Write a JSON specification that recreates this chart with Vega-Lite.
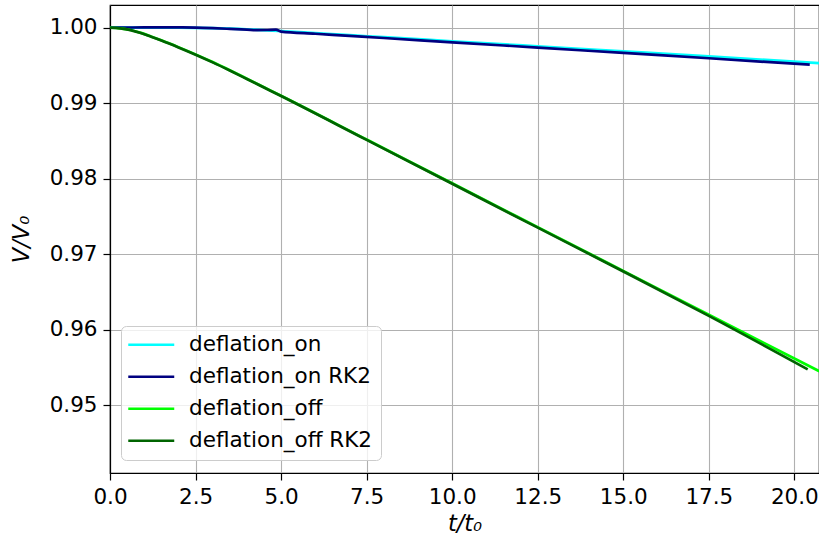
{
  "$schema": "https://vega.github.io/schema/vega-lite/v6.json",
  "width": 709,
  "height": 468,
  "autosize": {"type": "none"},
  "padding": {"left": 110, "top": 5, "right": 0, "bottom": 66},
  "background": "white",
  "config": {
    "font": "DejaVu Sans",
    "view": {"stroke": "black", "strokeWidth": 1.2},
    "axis": {
      "domainColor": "black",
      "domainWidth": 1.2,
      "tickColor": "black",
      "tickWidth": 1.2,
      "tickSize": 7,
      "labelFont": "DejaVu Sans",
      "labelFontSize": 21.5,
      "labelColor": "black",
      "labelPadding": 6,
      "labelFlush": false,
      "labelOverlap": false,
      "gridColor": "#b0b0b0",
      "gridWidth": 1.1,
      "titleFont": "DejaVu Sans",
      "titleFontSize": 22.5,
      "titleFontWeight": "normal",
      "titleFontStyle": "italic",
      "titleColor": "black"
    }
  },
  "data": {
    "values": [
      {"series": "deflation_on", "t": 0, "v": 1.0},
      {"series": "deflation_on", "t": 1, "v": 1.00002},
      {"series": "deflation_on", "t": 2, "v": 1.00002},
      {"series": "deflation_on", "t": 3, "v": 0.99995},
      {"series": "deflation_on", "t": 4, "v": 0.9998},
      {"series": "deflation_on", "t": 5, "v": 0.99955},
      {"series": "deflation_on", "t": 6, "v": 0.99928},
      {"series": "deflation_on", "t": 7, "v": 0.99901},
      {"series": "deflation_on", "t": 8, "v": 0.99875},
      {"series": "deflation_on", "t": 10, "v": 0.99821},
      {"series": "deflation_on", "t": 12.5, "v": 0.99754},
      {"series": "deflation_on", "t": 15, "v": 0.99687},
      {"series": "deflation_on", "t": 17.5, "v": 0.9962},
      {"series": "deflation_on", "t": 20.73, "v": 0.99531},
      {"series": "deflation_on RK2", "t": 0, "v": 1.0},
      {"series": "deflation_on RK2", "t": 0.5, "v": 1.00002},
      {"series": "deflation_on RK2", "t": 1, "v": 1.00004},
      {"series": "deflation_on RK2", "t": 1.5, "v": 1.00005},
      {"series": "deflation_on RK2", "t": 2, "v": 1.00004},
      {"series": "deflation_on RK2", "t": 2.5, "v": 1.00002},
      {"series": "deflation_on RK2", "t": 3, "v": 0.99995},
      {"series": "deflation_on RK2", "t": 3.5, "v": 0.99985},
      {"series": "deflation_on RK2", "t": 4, "v": 0.99975},
      {"series": "deflation_on RK2", "t": 4.3, "v": 0.99968},
      {"series": "deflation_on RK2", "t": 4.6, "v": 0.9997},
      {"series": "deflation_on RK2", "t": 4.85, "v": 0.99975},
      {"series": "deflation_on RK2", "t": 5.0, "v": 0.99948},
      {"series": "deflation_on RK2", "t": 6, "v": 0.9992},
      {"series": "deflation_on RK2", "t": 7, "v": 0.99892},
      {"series": "deflation_on RK2", "t": 8, "v": 0.99864},
      {"series": "deflation_on RK2", "t": 10, "v": 0.99807},
      {"series": "deflation_on RK2", "t": 12.5, "v": 0.99737},
      {"series": "deflation_on RK2", "t": 15, "v": 0.99666},
      {"series": "deflation_on RK2", "t": 17.5, "v": 0.99596},
      {"series": "deflation_on RK2", "t": 20.45, "v": 0.9951},
      {"series": "deflation_off", "t": 0, "v": 1.0},
      {"series": "deflation_off", "t": 0.3, "v": 0.99992},
      {"series": "deflation_off", "t": 0.6, "v": 0.9997},
      {"series": "deflation_off", "t": 0.9, "v": 0.99932},
      {"series": "deflation_off", "t": 1.2, "v": 0.99885},
      {"series": "deflation_off", "t": 1.5, "v": 0.99834},
      {"series": "deflation_off", "t": 2, "v": 0.99743},
      {"series": "deflation_off", "t": 2.5, "v": 0.99647},
      {"series": "deflation_off", "t": 3, "v": 0.99545},
      {"series": "deflation_off", "t": 3.5, "v": 0.99437},
      {"series": "deflation_off", "t": 4, "v": 0.99325},
      {"series": "deflation_off", "t": 4.5, "v": 0.99212},
      {"series": "deflation_off", "t": 5, "v": 0.99099},
      {"series": "deflation_off", "t": 7.5, "v": 0.98519},
      {"series": "deflation_off", "t": 10, "v": 0.97939},
      {"series": "deflation_off", "t": 12.5, "v": 0.97359},
      {"series": "deflation_off", "t": 15, "v": 0.96779},
      {"series": "deflation_off", "t": 17.5, "v": 0.96199},
      {"series": "deflation_off", "t": 20.73, "v": 0.9545},
      {"series": "deflation_off RK2", "t": 0, "v": 1.0},
      {"series": "deflation_off RK2", "t": 0.3, "v": 0.99991},
      {"series": "deflation_off RK2", "t": 0.6, "v": 0.99968},
      {"series": "deflation_off RK2", "t": 0.9, "v": 0.99929},
      {"series": "deflation_off RK2", "t": 1.2, "v": 0.99881},
      {"series": "deflation_off RK2", "t": 1.5, "v": 0.9983},
      {"series": "deflation_off RK2", "t": 2, "v": 0.99739},
      {"series": "deflation_off RK2", "t": 2.5, "v": 0.99643},
      {"series": "deflation_off RK2", "t": 3, "v": 0.99541},
      {"series": "deflation_off RK2", "t": 3.5, "v": 0.99433},
      {"series": "deflation_off RK2", "t": 4, "v": 0.99321},
      {"series": "deflation_off RK2", "t": 4.5, "v": 0.99208},
      {"series": "deflation_off RK2", "t": 5, "v": 0.99095},
      {"series": "deflation_off RK2", "t": 7.5, "v": 0.98514},
      {"series": "deflation_off RK2", "t": 10, "v": 0.97933},
      {"series": "deflation_off RK2", "t": 12.5, "v": 0.97352},
      {"series": "deflation_off RK2", "t": 15, "v": 0.96772},
      {"series": "deflation_off RK2", "t": 17.5, "v": 0.96183},
      {"series": "deflation_off RK2", "t": 20.39, "v": 0.95475}
    ]
  },
  "mark": {"type": "line", "strokeWidth": 2.7, "clip": true, "interpolate": "monotone"},
  "encoding": {
    "x": {
      "field": "t",
      "type": "quantitative",
      "scale": {"domain": [0, 20.72], "nice": false, "zero": false},
      "axis": {"values": [0, 2.5, 5, 7.5, 10, 12.5, 15, 17.5, 20], "format": ".1f", "title": "t/t₀", "titlePadding": 5}
    },
    "y": {
      "field": "v",
      "type": "quantitative",
      "scale": {"domain": [0.94102, 1.00301], "nice": false, "zero": false},
      "axis": {"values": [0.95, 0.96, 0.97, 0.98, 0.99, 1.0], "format": ".2f", "title": "V/V₀", "titlePadding": 16}
    },
    "color": {
      "field": "series",
      "type": "nominal",
      "sort": ["deflation_on", "deflation_on RK2", "deflation_off", "deflation_off RK2"],
      "scale": {
        "domain": ["deflation_on", "deflation_on RK2", "deflation_off", "deflation_off RK2"],
        "range": ["#00ffff", "#000080", "#00ff00", "#006400"]
      },
      "legend": {
        "title": null,
        "orient": "none",
        "legendX": 11,
        "legendY": 321,
        "labelFont": "DejaVu Sans",
        "labelFontSize": 21.5,
        "labelColor": "black",
        "labelOffset": 27,
        "labelLimit": 400,
        "symbolType": "M-2.659,0H2.659",
        "symbolSize": 299,
        "symbolOffset": 11.5,
        "symbolStrokeWidth": 2.7,
        "fillColor": "rgba(255,255,255,0.8)",
        "strokeColor": "#cccccc",
        "cornerRadius": 5,
        "padding": 8,
        "rowPadding": 9
      }
    }
  }
}
